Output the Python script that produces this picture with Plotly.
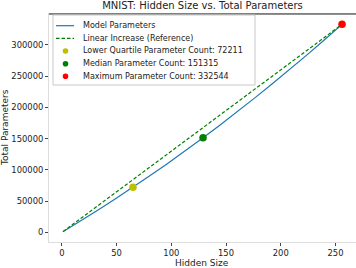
import plotly.graph_objects as go

# Data
hidden_sizes = [1, 16, 32, 48, 65, 80, 96, 112, 129, 144, 160, 176, 192, 208, 224, 240, 256]
param_counts = [1299, 17184, 34624, 52576, 72211, 90016, 109504, 129504, 151315,
                171040, 192576, 214624, 237184, 260256, 283840, 307936, 332544]
linear_x = [1, 256]
linear_y = [1299, 332544]
marker_names = ["Lower Quartile Parameter Count: 72211",
                "Median Parameter Count: 151315",
                "Maximum Parameter Count: 332544"]
marker_x = [65, 129, 256]
marker_y = [72211, 151315, 332544]
marker_colors = ["#bfbf00", "#008000", "#ff0000"]
x_ticks = [0, 50, 100, 150, 200, 250]
y_ticks = [0, 50000, 100000, 150000, 200000, 250000, 300000]

W, H = 356, 268
L, R, T, B = 49, 0, 14, 26
FONT = "DejaVu Sans"
TXT = "#222222"
pw = W - L - R
ph = H - T - B


def px(x):
    return (x - L) / pw


def py(y):
    return 1 - (y - T) / ph


fig = go.Figure()
fig.add_trace(go.Scatter(x=hidden_sizes, y=param_counts, mode="lines",
                         name="Model Parameters",
                         line=dict(color="#1f77b4", width=1.2)))
fig.add_trace(go.Scatter(x=linear_x, y=linear_y, mode="lines",
                         name="Linear Increase (Reference)",
                         line=dict(color="#008000", width=1.2, dash="3.5px,2px")))
for n, x, y, c in zip(marker_names, marker_x, marker_y, marker_colors):
    fig.add_trace(go.Scatter(x=[x], y=[y], mode="markers", name=n,
                             marker=dict(color=c, size=7.5)))

fig.update_layout(
    width=W, height=H,
    margin=dict(l=L, r=R, t=T, b=B, pad=0),
    paper_bgcolor="white", plot_bgcolor="white",
    font=dict(family=FONT, size=8, color=TXT),
    showlegend=False,
    title=dict(text="MNIST: Hidden Size vs. Total Parameters", x=(L + pw / 2) / W,
               xanchor="center", y=1 - 5 / H, yanchor="middle",
               font=dict(family=FONT, size=10, color=TXT)),
    xaxis=dict(range=[-11.75, 268.75], tickvals=x_ticks, ticks="outside", ticklen=3,
               tickcolor="#444", showgrid=False, zeroline=False, showline=True,
               linecolor="#dddddd", linewidth=1, mirror=True, automargin=False,
               tickfont=dict(family=FONT, size=8.4, color=TXT)),
    yaxis=dict(range=[-15263, 349106], tickvals=y_ticks, ticks="outside", ticklen=3,
               tickcolor="#444", showgrid=False, zeroline=False, showline=True,
               linecolor="#dddddd", linewidth=1, mirror=True, automargin=False,
               tickformat="d",
               tickfont=dict(family=FONT, size=8.4, color=TXT)),
)
# dark top spine
fig.add_shape(type="line", xref="paper", yref="paper", x0=0, x1=1, y0=1, y1=1,
              line=dict(color="#222", width=1))
# axis titles
fig.add_annotation(text="Total Parameters", textangle=-90, xref="paper", yref="paper",
                   x=px(5), y=0.5, xanchor="center", yanchor="middle",
                   showarrow=False, font=dict(family=FONT, size=9, color=TXT))
fig.add_annotation(text="Hidden Size", xref="paper", yref="paper",
                   x=px(202), y=py(263), xanchor="center", yanchor="middle",
                   showarrow=False, font=dict(family=FONT, size=9, color=TXT))

# legend (drawn in paper space, compact like the reference)
fig.add_shape(type="rect", xref="paper", yref="paper", x0=px(53), x1=px(255),
              y0=py(85), y1=py(15), line=dict(color="#c8c8c8", width=1),
              fillcolor="rgba(255,255,255,0.85)", layer="above")
leg_names = ["Model Parameters", "Linear Increase (Reference)"] + marker_names
leg_y = [25.7, 38.3, 51, 63.7, 76.3]
for i, (name, yy) in enumerate(zip(leg_names, leg_y)):
    if i == 0:
        fig.add_shape(type="line", xref="paper", yref="paper", x0=px(56), x1=px(74),
                      y0=py(yy), y1=py(yy), line=dict(color="#1f77b4", width=1.2),
                      layer="above")
    elif i == 1:
        fig.add_shape(type="line", xref="paper", yref="paper", x0=px(56), x1=px(74),
                      y0=py(yy), y1=py(yy),
                      line=dict(color="#008000", width=1.2, dash="3.5px,2px"),
                      layer="above")
    else:
        c = marker_colors[i - 2]
        r = 2.8
        fig.add_shape(type="circle", xref="paper", yref="paper",
                      x0=px(65.5 - r), x1=px(65.5 + r), y0=py(yy + r), y1=py(yy - r),
                      fillcolor=c, line=dict(color=c, width=0), layer="above")
    fig.add_annotation(text=name, xref="paper", yref="paper", x=px(81), y=py(yy),
                       xanchor="left", yanchor="middle", showarrow=False,
                       font=dict(family=FONT, size=8, color=TXT))

fig.write_html("out.html", config={"displayModeBar": False},
               post_script="document.body.style.margin='0';document.body.style.overflow='hidden';")
